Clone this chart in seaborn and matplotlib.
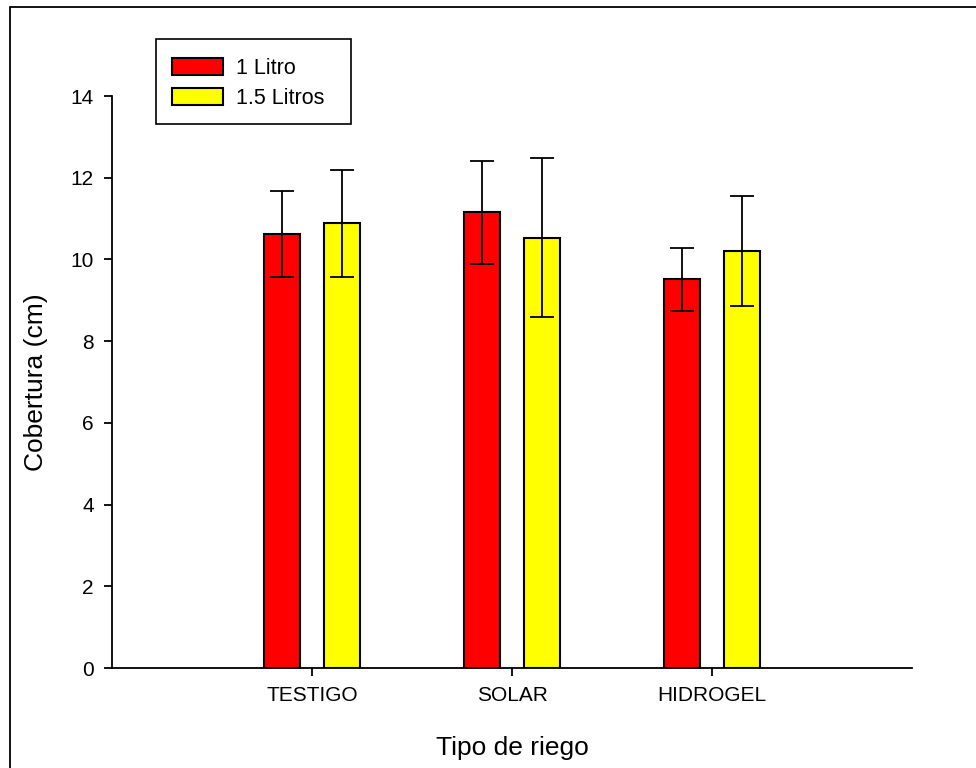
import matplotlib
matplotlib.use("Agg")
import matplotlib.pyplot as plt
import seaborn as sns
import pandas as pd
from matplotlib.patches import Rectangle

categories = ["TESTIGO", "SOLAR", "HIDROGEL"]
series_names = ["1 Litro", "1.5 Litros"]
values_1 = [10.62, 11.15, 9.51]
values_15 = [10.89, 10.53, 10.21]
err_1 = [1.05, 1.27, 0.76]
err_15 = [1.31, 1.95, 1.35]
colors = ["#ff0000", "#ffff00"]

rows = []
for i, c in enumerate(categories):
    rows.append({"Tipo": c, "Serie": series_names[0], "val": values_1[i]})
    rows.append({"Tipo": c, "Serie": series_names[1], "val": values_15[i]})
df = pd.DataFrame(rows)

sns.set_theme(style="ticks")
plt.rcParams["font.family"] = ["Liberation Sans", "DejaVu Sans"]

fig = plt.figure(figsize=(9.76, 7.68), dpi=100)
ax = fig.add_axes([112/976, 100/768, 800/976, 572/768])

sns.barplot(data=df, x="Tipo", y="val", hue="Serie", order=categories,
            hue_order=series_names, palette=colors, width=0.6, gap=0.4,
            errorbar=None, edgecolor="black", linewidth=1.5, saturation=1,
            ax=ax)

errs = [err_1, err_15]
for cont, e in zip(ax.containers, errs):
    for bar, ee in zip(cont, e):
        xc = bar.get_x() + bar.get_width() / 2
        ax.errorbar(xc, bar.get_height(), yerr=ee, fmt="none", ecolor="black",
                    elinewidth=1.3, capsize=8.5, capthick=1.3, zorder=5)

ax.set_xlim(-1, 3)
ax.set_ylim(0, 14)
ax.set_yticks([0, 2, 4, 6, 8, 10, 12, 14])
for s in ["top", "right"]:
    ax.spines[s].set_visible(False)
for s in ["left", "bottom"]:
    ax.spines[s].set_linewidth(1.3)
    ax.spines[s].set_color("black")
ax.tick_params(axis="both", direction="out", length=6, width=1.3,
               labelsize=15, colors="black", pad=7)
ax.set_xlabel("Tipo de riego", fontsize=19, labelpad=22, color="black")
ax.set_ylabel("Cobertura (cm)", fontsize=19, labelpad=16, color="black")

leg = ax.legend(loc="upper left", bbox_to_anchor=(172/976, 1 - 58/768),
                bbox_transform=fig.transFigure, fontsize=15.5, frameon=False,
                handlelength=2.35, handleheight=0.82, handletextpad=0.62,
                labelspacing=0.4, borderpad=0, borderaxespad=0, title=None)
for h in leg.legend_handles:
    h.set_edgecolor("black")
    h.set_linewidth(1.5)
for t in leg.get_texts():
    t.set_color("black")

# legend frame box
fig.patches.append(Rectangle((156/976, 1 - 124/768), 195/976, 85/768,
                             transform=fig.transFigure, fill=False,
                             edgecolor="black", linewidth=1.2))

fig.patches.append(Rectangle((10/976, -0.05), 1.2, 1 - 7/768 + 0.05,
                             transform=fig.transFigure, fill=False,
                             edgecolor="black", linewidth=1.3))

fig.savefig("out.png", dpi=100)
